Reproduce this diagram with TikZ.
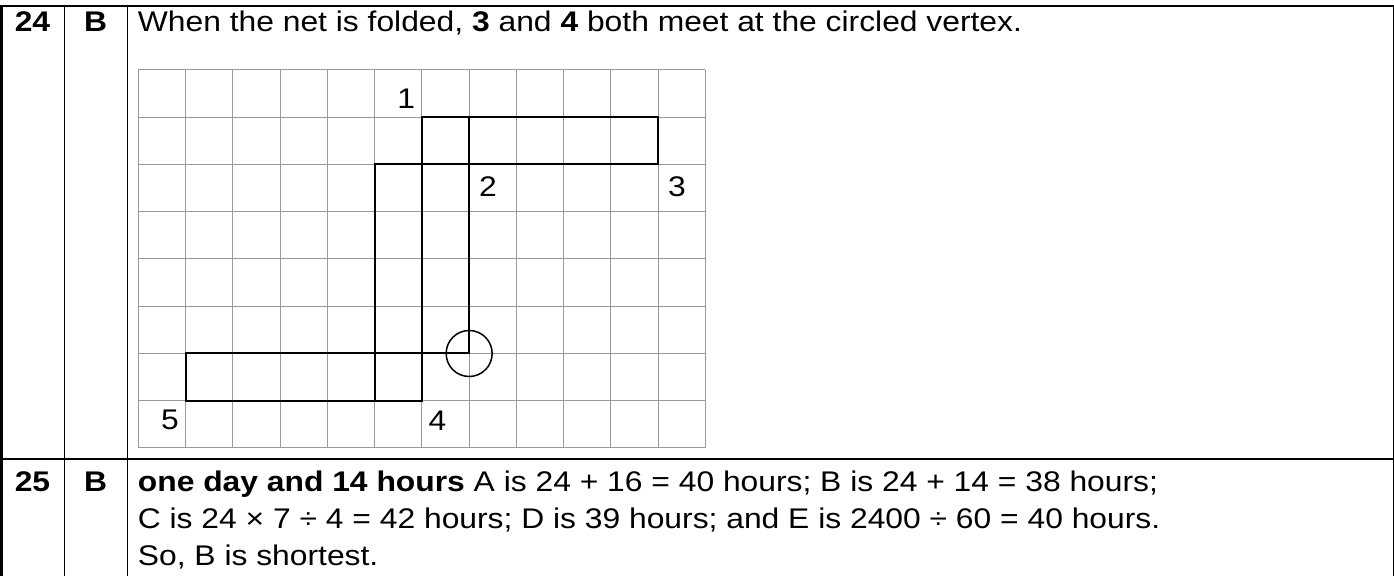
\documentclass[tikz,border=0pt]{standalone}
\usepackage{fontspec}
\setmainfont{Liberation Sans}[FakeStretch=1.12]
\usetikzlibrary{positioning}

\begin{document}
\begin{tikzpicture}[
    x=0.5pt, y=-0.5pt,
    txt/.style={font=\fontsize{14.2}{18.5}\selectfont, inner sep=0pt},
    rule/.style={line width=1pt},
    thinrule/.style={line width=0.6pt},
    gridline/.style={draw=black!40, line width=0.5pt},
    netline/.style={line width=1pt, line cap=rect},
    vertexmark/.style={circle, draw, line width=0.75pt, minimum size=23pt, inner sep=0pt}
  ]
    \useasboundingbox (0,0) rectangle (1394,576);

    \draw[rule] (0,6) -- (1394,6);
    \draw[rule] (0,459) -- (1394,459);
    \draw[line width=1.3pt] (1.3,6) -- (1.3,576);
    \draw[thinrule] (64.3,6) -- (64.3,576);
    \draw[thinrule] (127.7,6) -- (127.7,576);
    \draw[thinrule] (1393.3,6) -- (1393.3,576);

    \node[txt, anchor=base] (q24) at (32.5,32) {\bfseries 24};
    \node[txt, anchor=base] (ans24) at (95.7,32) {\bfseries B};
    \node[txt, anchor=base west] (txt24) at (137.5,32)
      {When the net is folded, \textbf{3} and \textbf{4} both meet at the circled vertex.};

    \begin{scope}[shift={(138.4,70)}, x=23.625pt, y=-23.625pt]
      \foreach \i in {0,...,12}
        \draw[gridline] (\i,0) -- (\i,8);
      \foreach \j in {0,...,8}
        \draw[gridline] (0,\j) -- (12,\j);
      \draw[netline] (6,1) rectangle (11,2);
      \draw[netline] (5,2) rectangle (6,7);
      \draw[netline] (1,6) rectangle (6,7);
      \draw[netline] (7,1) -- (7,6) -- (6,6);
      \node[vertexmark] (vtx) at (7,6) {};

      \node[txt] (v1) at (5.67,0.6) {1};
      \node[txt] (v2) at (7.4,2.46) {2};
      \node[txt] (v3) at (11.4,2.46) {3};
      \node[txt] (v4) at (6.33,7.42) {4};
      \node[txt] (v5) at (0.67,7.41) {5};
    \end{scope}

    \node[txt, anchor=base] (q25) at (32.5,492) {\bfseries 25};
    \node[txt, anchor=base] (ans25) at (95.7,492) {\bfseries B};
    \node[txt, anchor=base west] (txt25a) at (137.5,492)
      {\textbf{one day and 14 hours} A is 24 + 16 = 40 hours; B is 24 + 14 = 38 hours;};
    \node[txt, anchor=base west] (txt25b) at (137.5,529)
      {C is 24 × 7 ÷ 4 = 42 hours; D is 39 hours; and E is 2400 ÷ 60 = 40 hours.};
    \node[txt, anchor=base west] (txt25c) at (137.5,566) {So, B is shortest.};
\end{tikzpicture}
\end{document}
